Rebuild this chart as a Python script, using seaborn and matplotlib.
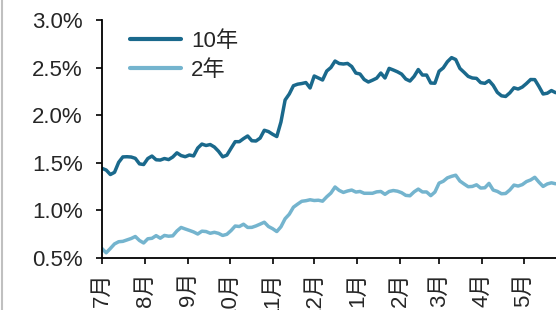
# 10y / 2y yield chart, Jul - May

import pandas as pd
import matplotlib.pyplot as plt
import matplotlib.dates as mdates
from matplotlib.ticker import FuncFormatter, MultipleLocator
from matplotlib.lines import Line2D
import seaborn as sns

start = "2020-07-01"
step = "3D"

y10 = [1.442, 1.424, 1.377, 1.400, 1.505, 1.562, 1.564, 1.561, 1.547, 1.489,
       1.482, 1.545, 1.571, 1.532, 1.529, 1.545, 1.534, 1.561, 1.605, 1.576,
       1.564, 1.582, 1.572, 1.655, 1.697, 1.682, 1.692, 1.666, 1.621, 1.563,
       1.580, 1.652, 1.722, 1.722, 1.754, 1.782, 1.732, 1.729, 1.760, 1.842,
       1.828, 1.800, 1.776, 1.929, 2.160, 2.223, 2.310, 2.326, 2.333, 2.343,
       2.286, 2.412, 2.391, 2.370, 2.464, 2.501, 2.569, 2.543, 2.538, 2.544,
       2.512, 2.443, 2.433, 2.375, 2.349, 2.368, 2.389, 2.443, 2.391, 2.492,
       2.475, 2.456, 2.432, 2.380, 2.359, 2.408, 2.480, 2.422, 2.422, 2.338,
       2.336, 2.462, 2.497, 2.562, 2.605, 2.585, 2.492, 2.451, 2.408, 2.391,
       2.387, 2.342, 2.335, 2.364, 2.314, 2.240, 2.204, 2.197, 2.235, 2.288,
       2.275, 2.296, 2.333, 2.375, 2.374, 2.302, 2.223, 2.231, 2.259, 2.237]

y2 = [0.599, 0.555, 0.600, 0.648, 0.671, 0.675, 0.690, 0.705, 0.726, 0.684,
      0.658, 0.702, 0.707, 0.735, 0.708, 0.737, 0.729, 0.733, 0.784, 0.821,
      0.805, 0.790, 0.774, 0.752, 0.782, 0.778, 0.760, 0.770, 0.759, 0.737,
      0.749, 0.788, 0.836, 0.831, 0.855, 0.821, 0.822, 0.837, 0.856, 0.876,
      0.831, 0.808, 0.778, 0.828, 0.913, 0.960, 1.034, 1.066, 1.096, 1.102,
      1.112, 1.104, 1.107, 1.097, 1.143, 1.182, 1.246, 1.210, 1.189, 1.204,
      1.214, 1.193, 1.199, 1.180, 1.180, 1.180, 1.195, 1.199, 1.169, 1.199,
      1.209, 1.202, 1.186, 1.158, 1.154, 1.195, 1.224, 1.194, 1.194, 1.155,
      1.193, 1.287, 1.306, 1.342, 1.358, 1.370, 1.309, 1.278, 1.249, 1.252,
      1.269, 1.235, 1.238, 1.284, 1.214, 1.200, 1.175, 1.178, 1.215, 1.266,
      1.256, 1.271, 1.303, 1.320, 1.348, 1.297, 1.252, 1.278, 1.290, 1.280]

series = ["10年", "2年"]
colors = {"10年": "#1a698c", "2年": "#74b4ce"}

dates = pd.date_range(start, periods=len(y10), freq=step)
df = pd.DataFrame({"date": dates, "10年": y10, "2年": y2})
df = df.melt(id_vars="date", var_name="tenor", value_name="yield")

sns.set_style("ticks")
plt.rcParams["font.family"] = ["Liberation Sans", "Noto Sans CJK SC"]

fig = plt.figure(figsize=(5.56, 3.10), dpi=100)
ax = fig.add_axes([0.1835, 0.1677, 0.8165, 0.7677])
sns.lineplot(data=df, x="date", y="yield", hue="tenor", hue_order=series,
             palette=colors, linewidth=2.5, ax=ax, legend=False)

ax.set_xlim(pd.Timestamp(start), pd.Timestamp(start) + pd.Timedelta(days=327.3))
ax.set_ylim(0.5, 3.0)
ax.yaxis.set_major_locator(MultipleLocator(0.5))
ax.yaxis.set_major_formatter(FuncFormatter(lambda v, _: f"{v:.1f}%"))
ax.xaxis.set_major_locator(mdates.MonthLocator())
ax.xaxis.set_major_formatter(FuncFormatter(lambda v, _: f"{mdates.num2date(v).month}月"))
ax.tick_params(axis="y", labelsize=16, length=4, width=1.2, pad=10, color="black")
ax.tick_params(axis="x", labelsize=16, length=4, width=1.2, pad=6, rotation=90, color="black")
ax.set_xlabel("")
ax.set_ylabel("")
sns.despine(ax=ax)
for side in ["left", "bottom"]:
    ax.spines[side].set_linewidth(1.3)
    ax.spines[side].set_color("black")

handles = [Line2D([], [], color=colors[s], linewidth=3) for s in series]
ax.legend(handles, series, loc="upper left", bbox_to_anchor=(0.062, 0.955),
          frameon=False, fontsize=16, handlelength=2.3, handletextpad=0.45,
          labelspacing=0.35, borderpad=0, borderaxespad=0)

fig.add_artist(Line2D([0.004, 0.004], [0, 1], color="#c0c0c0", linewidth=1.5))

fig.savefig("out.png", dpi=100)
